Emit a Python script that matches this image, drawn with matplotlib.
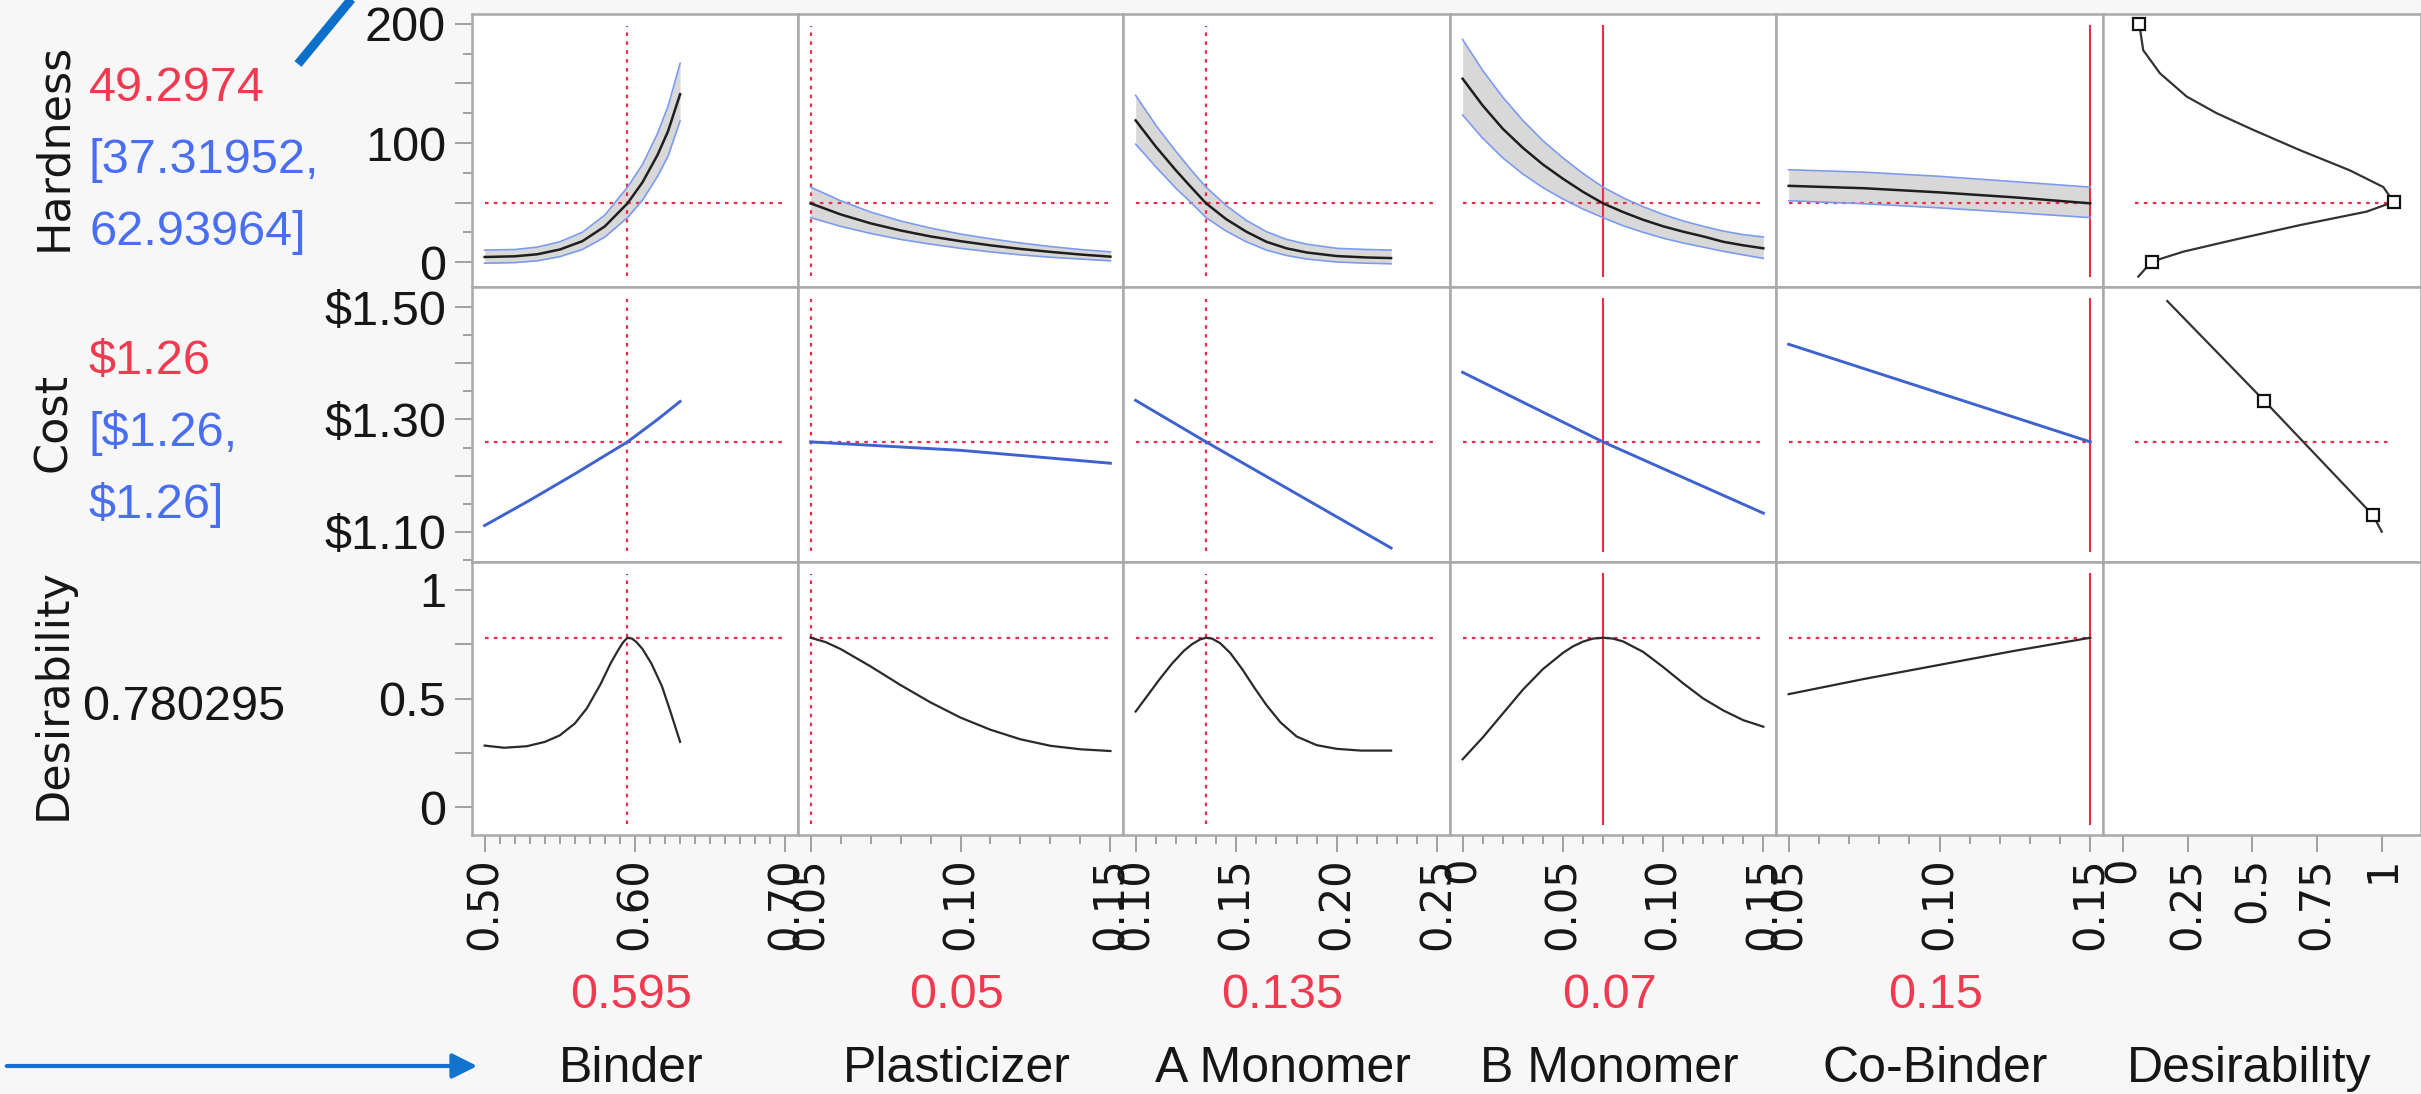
import numpy as np
import matplotlib.pyplot as plt
from matplotlib.ticker import MultipleLocator

plt.rcParams['font.family'] = ['Liberation Sans', 'DejaVu Sans']

W, H = 2421, 1094

# factors (columns)
factors = ['Binder', 'Plasticizer', 'A Monomer', 'B Monomer', 'Co-Binder']
settings = [0.595, 0.05, 0.135, 0.07, 0.15]
setting_labels = ['0.595', '0.05', '0.135', '0.07', '0.15']
factor_ranges = [(0.50, 0.70), (0.05, 0.15), (0.10, 0.25), (0.0, 0.15), (0.05, 0.15)]
factor_ticks = [[0.50, 0.60, 0.70], [0.05, 0.10, 0.15], [0.10, 0.15, 0.20, 0.25],
                [0.0, 0.05, 0.10, 0.15], [0.05, 0.10, 0.15]]
factor_ticklabels = [['0.50', '0.60', '0.70'], ['0.05', '0.10', '0.15'],
                     ['0.10', '0.15', '0.20', '0.25'], ['0', '0.05', '0.10', '0.15'],
                     ['0.05', '0.10', '0.15']]
locked = [False, False, False, True, True]

# responses (rows)
responses = ['Hardness', 'Cost', 'Desirability']
hardness_pred = 49.2974
cost_pred = 1.26
desir_value = 0.780295
hardness_text = ['49.2974', '[37.31952,', '62.93964]']
cost_text = ['$1.26', '[$1.26,', '$1.26]']
desir_text = '0.780295'

# Hardness profiles: prediction, lower, upper
bind_hx = [0.50, 0.52, 0.535, 0.55, 0.565, 0.58, 0.595, 0.605, 0.615, 0.622, 0.63]
bind_h = [4.2, 4.8, 6.5, 10.5, 17.5, 30, 49.3, 67, 90, 110, 141]
bind_hlo = [-1, -0.5, 1, 4.5, 10.5, 21, 37.3, 52, 72, 89, 118.5]
bind_hhi = [10, 10.5, 12.5, 17, 25, 39.5, 62.9, 82, 108, 131, 167]

plas_hx = [0.05, 0.06, 0.07, 0.08, 0.09, 0.10, 0.11, 0.12, 0.13, 0.14, 0.15]
plas_h = [49.3, 40, 32.5, 26.5, 21.5, 17.5, 14, 11, 8.5, 6.3, 4.5]
plas_hlo = [37.3, 30, 24, 19, 15, 11.5, 8.5, 6, 4, 2.5, 1]
plas_hhi = [62.9, 51.5, 42, 34.5, 28.5, 23.5, 19.5, 16, 13, 10.5, 8.5]

amon_hx = [0.100, 0.110, 0.120, 0.1275, 0.135, 0.145, 0.155, 0.165, 0.175, 0.185, 0.200, 0.215, 0.227]
amon_h = [119, 97, 77, 63, 49.3, 36, 25.5, 17, 11.5, 8, 5, 3.8, 3.3]
amon_hlo = [99, 80, 62, 50, 37.3, 26, 17, 10, 5.5, 2.5, 0, -1, -1.5]
amon_hhi = [140, 115, 93, 77.5, 62.9, 47.5, 35, 25.5, 19, 15, 11.5, 10.5, 10]

bmon_hx = [0.0, 0.01, 0.02, 0.03, 0.04, 0.05, 0.06, 0.07, 0.08, 0.09, 0.10, 0.11, 0.12, 0.13, 0.14, 0.15]
bmon_h = [154, 131.5, 112, 96, 82, 70, 59, 49.3, 42, 35.5, 30, 25.5, 21.5, 17, 14, 11.5]
bmon_hlo = [123.5, 104, 87.5, 74, 62.5, 53, 44.5, 37.3, 30.5, 25, 20, 16, 12.5, 9, 6, 3]
bmon_hhi = [187, 161, 138.5, 119, 102, 87.5, 74.5, 62.9, 54, 46.5, 40, 34.5, 30, 26, 23, 21]

cobi_hx = [0.05, 0.075, 0.10, 0.125, 0.15]
cobi_h = [64, 62, 58.5, 54.3, 49.3]
cobi_hlo = [51.5, 49, 45.5, 41.5, 37.3]
cobi_hhi = [77.5, 75.5, 72, 67.5, 62.9]

# Cost profiles
bind_cx = [0.50, 0.53, 0.56, 0.595, 0.615, 0.63]
bind_c = [1.111, 1.156, 1.203, 1.26, 1.30, 1.332]
plas_cx = [0.05, 0.10, 0.15]
plas_c = [1.26, 1.245, 1.222]
amon_cx = [0.10, 0.135, 0.227]
amon_c = [1.334, 1.26, 1.071]
bmon_cx = [0.0, 0.07, 0.15]
bmon_c = [1.384, 1.26, 1.133]
cobi_cx = [0.05, 0.10, 0.15]
cobi_c = [1.434, 1.347, 1.26]

# Desirability profiles
bind_dx = [0.50, 0.513, 0.528, 0.540, 0.550, 0.560, 0.568, 0.577, 0.584, 0.589, 0.592, 0.595,
           0.598, 0.601, 0.605, 0.611, 0.618, 0.624, 0.63]
bind_d = [0.283, 0.273, 0.280, 0.300, 0.330, 0.385, 0.455, 0.565, 0.665, 0.725, 0.758, 0.78,
          0.776, 0.76, 0.728, 0.66, 0.555, 0.43, 0.30]
plas_dx = [0.05, 0.055, 0.06, 0.07, 0.08, 0.09, 0.10, 0.11, 0.12, 0.13, 0.14, 0.15]
plas_d = [0.78, 0.76, 0.728, 0.648, 0.562, 0.482, 0.412, 0.356, 0.312, 0.282, 0.266, 0.258]
amon_dx = [0.100, 0.106, 0.112, 0.118, 0.124, 0.128, 0.132, 0.135, 0.138, 0.142, 0.147, 0.153,
           0.159, 0.165, 0.172, 0.180, 0.190, 0.200, 0.212, 0.227]
amon_d = [0.44, 0.515, 0.59, 0.66, 0.72, 0.75, 0.772, 0.78, 0.776, 0.755, 0.71, 0.635,
          0.55, 0.47, 0.39, 0.325, 0.285, 0.268, 0.26, 0.26]
bmon_dx = [0.0, 0.01, 0.02, 0.03, 0.04, 0.05, 0.055, 0.06, 0.065, 0.07, 0.075, 0.08, 0.09,
           0.10, 0.11, 0.12, 0.13, 0.14, 0.15]
bmon_d = [0.22, 0.32, 0.43, 0.54, 0.635, 0.71, 0.74, 0.762, 0.776, 0.78, 0.776, 0.763, 0.715,
          0.645, 0.57, 0.50, 0.445, 0.40, 0.37]
cobi_dx = [0.05, 0.075, 0.10, 0.125, 0.15]
cobi_d = [0.52, 0.59, 0.655, 0.72, 0.78]

# Desirability functions (last column)
hard_fn_d = [0.059, 0.111, 0.233, 0.426, 0.683, 0.94, 1.045, 1.005, 0.876, 0.683,
             0.503, 0.362, 0.246, 0.143, 0.078, 0.063]
hard_fn_h = [-12.3, 0.3, 8.7, 18.5, 31, 42.3, 50.5, 63, 77, 94, 111, 125, 139, 158.5, 178, 200]
hard_ctrl_d = [0.063, 1.045, 0.111]
hard_ctrl_h = [200, 50.5, 0]
cost_fn_d = [0.171, 0.546, 0.966, 0.999]
cost_fn_c = [1.511, 1.333, 1.129, 1.10]
cost_ctrl_d = [0.546, 0.966]
cost_ctrl_c = [1.333, 1.129]

hard_x = [bind_hx, plas_hx, amon_hx, bmon_hx, cobi_hx]
hard_y = [bind_h, plas_h, amon_h, bmon_h, cobi_h]
hard_lo = [bind_hlo, plas_hlo, amon_hlo, bmon_hlo, cobi_hlo]
hard_hi = [bind_hhi, plas_hhi, amon_hhi, bmon_hhi, cobi_hhi]
cost_x = [bind_cx, plas_cx, amon_cx, bmon_cx, cobi_cx]
cost_y = [bind_c, plas_c, amon_c, bmon_c, cobi_c]
des_x = [bind_dx, plas_dx, amon_dx, bmon_dx, cobi_dx]
des_y = [bind_d, plas_d, amon_d, bmon_d, cobi_d]

row_ylims = [(-21, 208.4), (1.046, 1.536), (-0.129, 1.129)]
row_ticks = [[0, 50, 100, 150, 200], [1.1, 1.2, 1.3, 1.4, 1.5], [0, 0.25, 0.5, 0.75, 1]]
row_ticklabels = [['0', '', '100', '', '200'], ['$1.10', '', '$1.30', '', '$1.50'],
                  ['0', '', '0.5', '', '1']]
row_minor = [25, 0.05, None]
row_current = [hardness_pred, cost_pred, desir_value]
des_ticks = [0, 0.25, 0.5, 0.75, 1]
des_ticklabels = ['0', '0.25', '0.5', '0.75', '1']

RED = '#EE2B45'
RED_TXT = '#F03A50'
BLUE_TXT = '#4A6EF2'
BAND_EDGE = '#7C9BF0'
COST_BLUE = '#3E62CF'
GRID = '#A9A9A9'
INK = '#161616'
DOTS = (0, (1.6, 2.4))

col_edges = [472, 798, 1123, 1450, 1776, 2103, 2421]
row_edges = [14, 287, 562, 835]

fig = plt.figure(figsize=(W / 100, H / 100), dpi=100, facecolor='#F7F7F7')

for r in range(3):
    for c in range(6):
        x0, x1 = col_edges[c], col_edges[c + 1]
        y0, y1 = row_edges[r], row_edges[r + 1]
        ax = fig.add_axes([x0 / W, 1 - y1 / H, (x1 - x0) / W, (y1 - y0) / H])
        ax.set_facecolor('white')
        for s in ax.spines.values():
            s.set_color(GRID)
            s.set_linewidth(1.8)
        ax.set_ylim(*row_ylims[r])
        ax.tick_params(which='both', direction='out', color='#A0A0A0', width=1.4,
                       labelcolor=INK)
        ax.tick_params(which='major', length=12.2)
        ax.tick_params(which='minor', length=6.5)

        if c < 5:
            lo, hi = factor_ranges[c]
            pad = 0.042 * (hi - lo)
            ax.set_xlim(lo - pad, hi + pad)
            ax.xaxis.set_minor_locator(MultipleLocator(0.01))
            ax.set_xticks(factor_ticks[c], factor_ticklabels[c])
        else:
            ax.set_xlim(-0.0772, 1.1506)
            ax.set_xticks(des_ticks, des_ticklabels)

        if r == 2:
            ax.tick_params(axis='x', which='both', bottom=True, labelbottom=True, pad=3.6)
            for t in ax.get_xticklabels():
                t.set_rotation(90)
                t.set_fontfamily('DejaVu Sans')
                t.set_fontsize(30)
        else:
            ax.tick_params(axis='x', which='both', bottom=False, labelbottom=False)

        ax.set_yticks(row_ticks[r], row_ticklabels[r])
        if row_minor[r] is not None:
            ax.yaxis.set_minor_locator(MultipleLocator(row_minor[r]))
        if c == 0:
            ax.tick_params(axis='y', pad=6.5, labelsize=35)
        else:
            ax.tick_params(axis='y', which='both', left=False, labelleft=False)

        if c < 5:
            lo, hi = factor_ranges[c]
            if locked[c]:
                ax.axvline(settings[c], ymin=0.04, ymax=0.955, color=RED, lw=1.5, zorder=2)
            else:
                ax.axvline(settings[c], ymin=0.04, ymax=0.955, color=RED, lw=1.6,
                           ls=DOTS, zorder=2)
            ax.hlines(row_current[r], lo, hi, color=RED, lw=1.6, ls=DOTS, zorder=2)
            if r == 0:
                ax.fill_between(hard_x[c], hard_lo[c], hard_hi[c], color='#D8D8D8', lw=0, zorder=1)
                ax.plot(hard_x[c], hard_lo[c], color=BAND_EDGE, lw=1.2, zorder=3)
                ax.plot(hard_x[c], hard_hi[c], color=BAND_EDGE, lw=1.2, zorder=3)
                ax.plot(hard_x[c], hard_y[c], color='#1E1E1E', lw=1.8, zorder=4)
            elif r == 1:
                ax.plot(cost_x[c], cost_y[c], color=COST_BLUE, lw=2.1, zorder=3)
            else:
                ax.plot(des_x[c], des_y[c], color='#2A2A2A', lw=1.6, zorder=3)
        else:
            if r == 0:
                ax.hlines(hardness_pred, 0.046, 1.04, color=RED, lw=1.6, ls=DOTS)
                ax.plot(hard_fn_d, hard_fn_h, color='#333333', lw=1.6, zorder=3)
                ax.plot(hard_ctrl_d, hard_ctrl_h, ls='none', marker='s', ms=8.5, mfc='white',
                        mec='#111111', mew=1.6, zorder=4)
            elif r == 1:
                ax.hlines(cost_pred, 0.046, 1.04, color=RED, lw=1.6, ls=DOTS)
                ax.plot(cost_fn_d, cost_fn_c, color='#333333', lw=1.6, zorder=3)
                ax.plot(cost_ctrl_d, cost_ctrl_c, ls='none', marker='s', ms=8.5, mfc='white',
                        mec='#111111', mew=1.6, zorder=4)

# overlay for labels and annotations, in pixel coordinates
ov = fig.add_axes([0, 0, 1, 1])
ov.set_xlim(0, W)
ov.set_ylim(H, 0)
ov.axis('off')

row_label_y = [147, 422, 694]
for name, yc in zip(responses, row_label_y):
    ov.text(66, yc, name, rotation=90, rotation_mode='anchor', ha='center', va='baseline',
            fontsize=32, fontfamily='DejaVu Sans', color=INK)

for txt, yb, col in zip(hardness_text, [101, 173, 245], [RED_TXT, BLUE_TXT, BLUE_TXT]):
    ov.text(89, yb, txt, ha='left', va='baseline', fontsize=35, color=col)
for txt, yb, col in zip(cost_text, [374, 446, 518], [RED_TXT, BLUE_TXT, BLUE_TXT]):
    ov.text(89, yb, txt, ha='left', va='baseline', fontsize=35, color=col)
ov.text(82, 720, desir_text, ha='left', va='baseline', fontsize=35, color=INK)

for c in range(5):
    xc = (col_edges[c] + col_edges[c + 1]) / 2 - 4
    ov.text(xc, 1008, setting_labels[c], ha='center', va='baseline', fontsize=35, color=RED_TXT)
    ov.text(xc, 1082, factors[c], ha='center', va='baseline', fontsize=36, color=INK)
ov.text(2249, 1082, 'Desirability', ha='center', va='baseline', fontsize=36, color=INK)

# blue callout marks
ov.plot([298, 354], [64, -4], color='#0B6FCC', lw=6.5, solid_capstyle='butt')
ov.annotate('', xy=(480, 1066), xytext=(4, 1066),
            arrowprops=dict(arrowstyle='-|>', color='#1173CC', lw=3, mutation_scale=38))

fig.savefig('out.png', dpi=100, facecolor=fig.get_facecolor())
